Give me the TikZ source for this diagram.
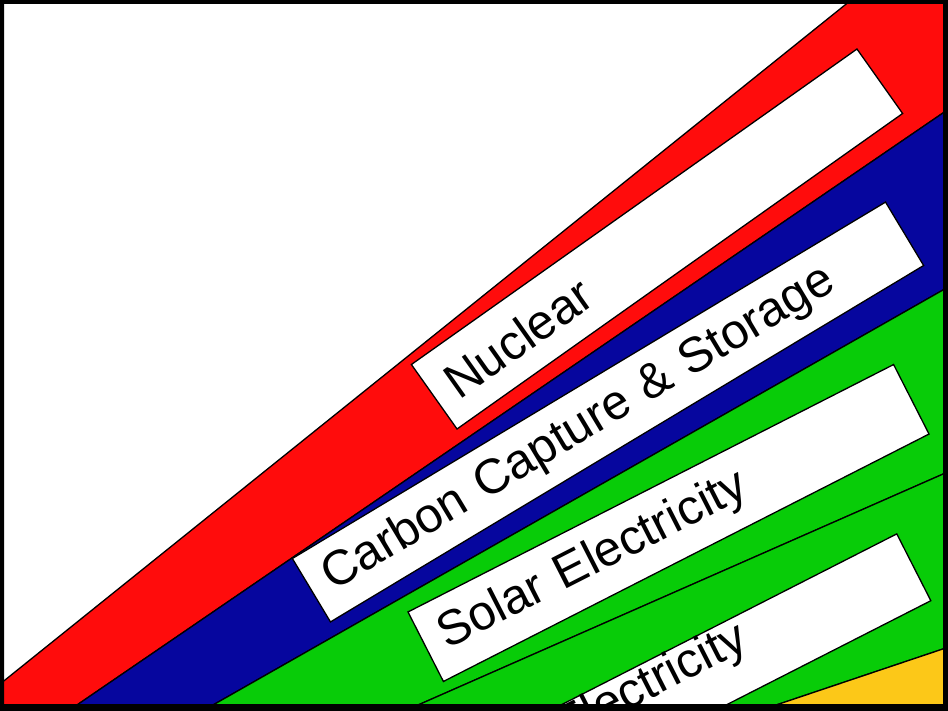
\documentclass[tikz,border=0pt]{standalone}
\usepackage{fontspec}
\setmainfont{Liberation Sans}
\usetikzlibrary{positioning}
\definecolor{nuclearred}{RGB}{255,12,12}
\definecolor{ccsblue}{RGB}{6,6,158}
\definecolor{solargreen}{RGB}{8,204,8}
\definecolor{ambergold}{RGB}{252,200,24}

\begin{document}
\begin{tikzpicture}[x=1pt,y=1pt,
  wedge/.style={draw=black,line width=1.3pt},
  labelbox/.style={draw=black,fill=white,line width=1.3pt,inner xsep=18pt,
    align=left,font=\fontsize{49}{49}\selectfont}]
\useasboundingbox (0,0) rectangle (948,-711);
\fill [white] (0,0) rectangle (948,-711);
\begin{scope}
\clip (4,-4) rectangle (943,-704);
% wedges
\filldraw [wedge,fill=nuclearred] (-50,-724.2) -- (1000,119.6) -- (1000,-74) -- (-50,-791.8) -- cycle;
\filldraw [wedge,fill=ccsblue] (-50,-791.8) -- (1000,-74) -- (1000,-257.6) -- (-50,-854.5) -- cycle;
\filldraw [wedge,fill=solargreen] (-50,-854.5) -- (1000,-257.6) -- (1000,-449) -- (-50,-910.9) -- cycle;
\filldraw [wedge,fill=solargreen] (-50,-910.9) -- (1000,-449) -- (1000,-629.8) -- (-50,-982.6) -- cycle;
\filldraw [wedge,fill=ambergold] (-50,-982.6) -- (1000,-629.8) -- (1000,-1000) -- (-50,-1000) -- cycle;
% labels
\node [labelbox,rotate=35.3,text width=510pt,minimum height=79pt] (nuclear) at (657,-239) {Nuclear};
\node [labelbox,rotate=31,text width=656pt,minimum height=74pt] (ccs) at (608,-412) {Carbon Capture \& Storage};
\node [labelbox,rotate=27,text width=509pt,minimum height=78pt] (solar) at (668.5,-523) {Solar Electricity};
\node [labelbox,rotate=27,text width=509pt,minimum height=75pt] (wind) at (671,-691) {\hspace*{2.75em}\raisebox{15pt}[\height][\depth]{Electricity}};
\end{scope}
% frame
\fill [black,even odd rule] (0,0) rectangle (948,-711) (4,-4) rectangle (943,-704);
\end{tikzpicture}
\end{document}
